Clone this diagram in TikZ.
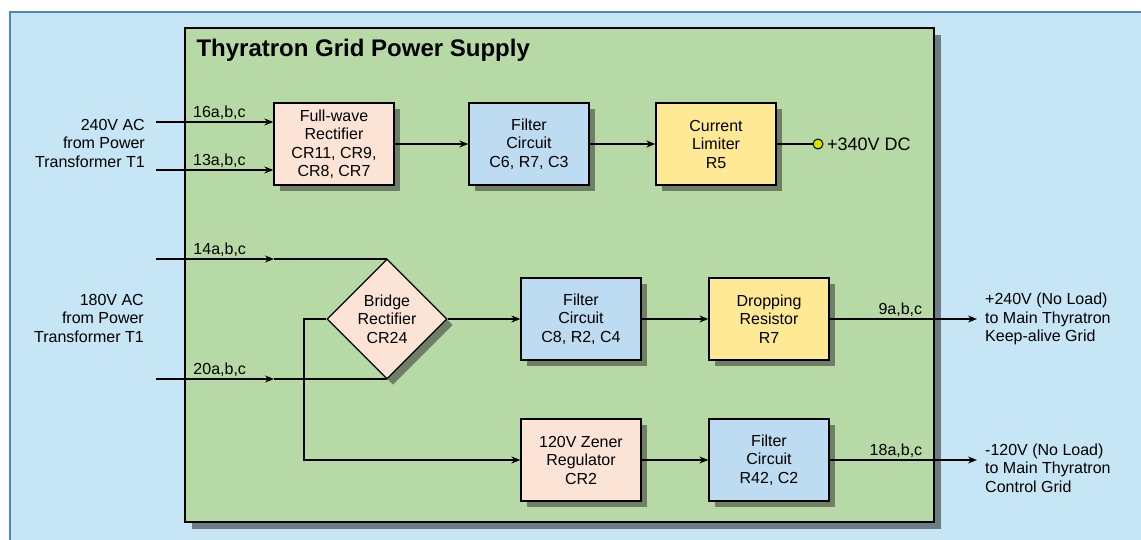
\documentclass[tikz,border=0pt]{standalone}
\usepackage{fontspec}
\setmainfont{Liberation Sans}
\usetikzlibrary{arrows.meta, shapes.geometric, shadows}
\definecolor{bgblue}{RGB}{198,229,245}
\definecolor{edgeblue}{RGB}{84,132,196}
\definecolor{panelgreen}{RGB}{183,217,166}
\definecolor{peach}{RGB}{251,228,214}
\definecolor{paleblue}{RGB}{190,220,241}
\definecolor{paleyellow}{RGB}{255,233,148}
\definecolor{dotyellow}{RGB}{214,226,0}

\begin{document}
\begin{tikzpicture}[x=1pt, y=-1pt, >={Stealth[length=9pt,width=7pt]},
  shade/.style={drop shadow={shadow xshift=6pt, shadow yshift=-6pt, fill=black!85, opacity=0.5}},
  block/.style={draw=black, line width=1.3pt, minimum width=120pt, minimum height=82pt, align=center, inner sep=0pt, font=\fontsize{16}{18.5}\selectfont, shade},
  wire/.style={line width=1.3pt},
  lbl/.style={font=\fontsize{16}{18.5}\selectfont, inner sep=2pt}]
  \useasboundingbox (0,0) rectangle (1141,540);
  \fill[white] (0,0) rectangle (1141,540);
  \fill[bgblue] (10,12) rectangle (1141,540);
  \draw[edgeblue, line width=1.6pt] (10,540) -- (10,12) -- (1141,12);
  \path[draw=black, line width=1.5pt, fill=panelgreen, drop shadow={shadow xshift=7pt, shadow yshift=-7pt, fill=black!85, opacity=0.55}] (185,28) rectangle (934,522);
  \node[anchor=west, font=\fontsize{24}{26}\selectfont\bfseries] (title) at (193,50) {Thyratron Grid Power Supply};

  \node[block, fill=peach] (fwrect) at (334,144) {Full-wave\\Rectifier\\CR11, CR9,\\CR8, CR7};
  \node[block, fill=paleblue] (filtA) at (529,144) {Filter\\Circuit\\C6, R7, C3};
  \node[block, fill=paleyellow] (limiter) at (716,144) {Current\\Limiter\\R5};
  \node[diamond, draw=black, line width=1.3pt, fill=peach, minimum width=120pt, minimum height=120pt, inner sep=0pt, align=center, font=\fontsize{16}{18.5}\selectfont, shade] (bridge) at (387,319) {Bridge\\Rectifier\\CR24};
  \node[block, fill=paleblue] (filtB) at (581,319) {Filter\\Circuit\\C8, R2, C4};
  \node[block, fill=paleyellow] (dropres) at (769,319) {Dropping\\Resistor\\R7};
  \node[block, fill=peach] (zener) at (581,460) {120V Zener\\Regulator\\CR2};
  \node[block, fill=paleblue] (filtC) at (769,460) {Filter\\Circuit\\R42, C2};

  \node[lbl, anchor=east, align=right] (srcA) at (147,143) {240V AC\\from Power\\Transformer T1};
  \node[lbl, anchor=east, align=right] (srcB) at (146,318) {180V AC\\from Power\\Transformer T1};

  \coordinate (in16) at (156,122);
  \coordinate (in13) at (156,170);
  \coordinate (in14) at (156,259);
  \coordinate (mid14) at (274,259);
  \coordinate (in20) at (156,379);
  \coordinate (mid20) at (274,379);
  \coordinate (bus) at (304,319);
  \coordinate (outA) at (977,319);
  \coordinate (outB) at (977,460);

  \draw[wire,->] (in16) -- node[lbl, above, pos=0.54]{16a,b,c} (in16 -| fwrect.west);
  \draw[wire,->] (in13) -- node[lbl, above, pos=0.54]{13a,b,c} (in13 -| fwrect.west);
  \draw[wire,->] (fwrect) -- (filtA);
  \draw[wire,->] (filtA) -- (limiter);
  \node[circle, draw=black, line width=1pt, fill=dotyellow, minimum size=10pt, inner sep=0pt] (dcout) at (818,144) {};
  \draw[wire] (limiter) -- (dcout);
  \node[anchor=west, font=\fontsize{18}{20}\selectfont] (dclbl) at (dcout.east) {+340V DC};

  \draw[wire,->] (in14) -- node[lbl, above, pos=0.54]{14a,b,c} (mid14);
  \draw[wire] (mid14) -- (mid14 -| bridge.north);
  \draw[wire,->] (in20) -- node[lbl, above, pos=0.54]{20a,b,c} (mid20);
  \draw[wire] (mid20) -- (mid20 -| bridge.south);
  \draw[wire,->] (bridge.east) -- (filtB.west);
  \draw[wire,->] (bridge.west) -- (bus) |- (zener.west);
  \draw[wire,->] (filtB) -- (dropres);
  \draw[wire,->] (zener) -- (filtC);
  \draw[wire,->] (dropres.east) -- node[lbl, above, pos=0.48]{9a,b,c} (outA);
  \draw[wire,->] (filtC.east) -- node[lbl, above, pos=0.45]{18a,b,c} (outB);

  \node[lbl, anchor=west, align=left] (dstA) at (983,319) {+240V (No Load)\\to Main Thyratron\\Keep-alive Grid};
  \node[lbl, anchor=west, align=left] (dstB) at (983,468) {-120V (No Load)\\to Main Thyratron\\Control Grid};
\end{tikzpicture}
\end{document}
